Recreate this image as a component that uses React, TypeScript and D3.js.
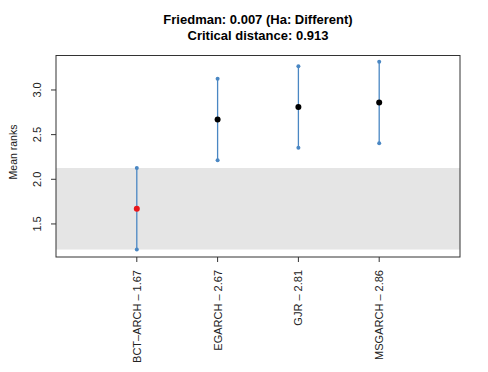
import React from "react";
import * as d3 from "d3";

const models = ["BCT\u2013ARCH", "EGARCH", "GJR", "MSGARCH"];
const meanRanks = [1.67, 2.67, 2.81, 2.86];
const criticalDistance = 0.913;
const yTicks = [1.5, 2.0, 2.5, 3.0];
const titleLines = ["Friedman: 0.007 (Ha: Different)", "Critical distance: 0.913"];

export default function App() {
  const W = 488, H = 372;
  const left = 56, right = 460, top = 55.5, bottom = 257;
  const x = d3.scaleLinear().domain([0, models.length + 1]).range([left, right]);
  const y = d3.scaleLinear().domain([1.13, 3.386]).range([bottom, top]);
  const half = criticalDistance / 2;
  const best = d3.min(meanRanks) as number;
  const font = "Liberation Sans, Arial, Helvetica, sans-serif";
  const blue = "#4A87C3";
  return (
    <svg width={W} height={H} style={{ position: "absolute", left: 0, top: 0 }}>
      <rect width={W} height={H} fill="#fff" />
      <rect x={left} y={y(best + half)} width={right - left} height={y(best - half) - y(best + half)} fill="#E5E5E5" />
      {meanRanks.map((m, i) => (
        <g key={models[i]}>
          <line x1={x(i + 1)} x2={x(i + 1)} y1={y(m - half)} y2={y(m + half)} stroke={blue} strokeWidth={1.3} />
          <circle cx={x(i + 1)} cy={y(m - half)} r={2} fill={blue} />
          <circle cx={x(i + 1)} cy={y(m + half)} r={2} fill={blue} />
          <circle cx={x(i + 1)} cy={y(m)} r={3} fill={i === 0 ? "#E8161B" : "#000"} />
        </g>
      ))}
      <rect x={left} y={top} width={right - left} height={bottom - top} fill="none" stroke="#333" strokeWidth={1} />
      {yTicks.map((t) => (
        <g key={t}>
          <line x1={left - 5} x2={left} y1={y(t)} y2={y(t)} stroke="#333" />
          <text transform={`translate(${left - 15},${y(t)}) rotate(-90)`} textAnchor="middle" fontFamily={font} fontSize={11} fill="#222">
            {t.toFixed(1)}
          </text>
        </g>
      ))}
      <text transform={`translate(16.5,152) rotate(-90)`} textAnchor="middle" fontFamily={font} fontSize={10.5} fill="#222">
        Mean ranks
      </text>
      {models.map((m, i) => (
        <g key={m}>
          <line x1={x(i + 1)} x2={x(i + 1)} y1={bottom} y2={bottom + 5} stroke="#333" />
          <text transform={`translate(${x(i + 1) + 4},270) rotate(-90)`} textAnchor="end" fontFamily={font} fontSize={11} fill="#222">
            {`${m} \u2013 ${meanRanks[i].toFixed(2)}`}
          </text>
        </g>
      ))}
      {titleLines.map((l, i) => (
        <text key={l} x={(left + right) / 2} y={24 + i * 16} textAnchor="middle" fontFamily={font} fontSize={13} fontWeight="bold" fill="#000">
          {l}
        </text>
      ))}
    </svg>
  );
}
